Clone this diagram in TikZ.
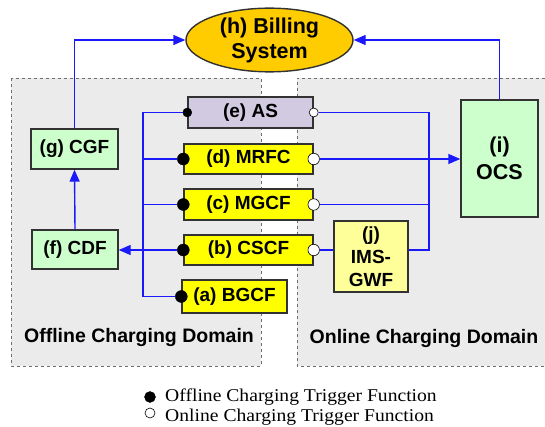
\documentclass[tikz,border=0pt]{standalone}
\usepackage{fontspec}
\usepackage{graphicx}
\setmainfont{Liberation Sans}
\newfontfamily\legendfont{Liberation Serif}
\usetikzlibrary{arrows.meta,shapes.geometric}
\definecolor{conn}{RGB}{25,25,250}
\definecolor{boxline}{RGB}{50,50,50}
\definecolor{domfill}{RGB}{235,235,235}
\definecolor{domline}{RGB}{110,110,110}
\definecolor{gold}{RGB}{255,204,0}
\definecolor{lav}{RGB}{210,202,224}
\definecolor{mint}{RGB}{204,255,204}
\definecolor{paleyel}{RGB}{255,255,153}
\definecolor{yel}{RGB}{255,255,0}
\begin{document}
\begin{tikzpicture}[x=1pt,y=-1pt,
  box/.style={draw=boxline, line width=1.4pt, inner sep=0pt, align=center,
    font=\fontsize{19}{23}\selectfont\bfseries},
  link/.style={draw=conn, line width=1.4pt},
  arr/.style={link, -{Triangle[length=12pt,width=10pt]}},
  dom/.style={fill=domfill, draw=domline, dashed, line width=0.8pt},
  domlabel/.style={font=\fontsize{19.5}{23}\selectfont\bfseries},
  fdot/.style={circle, fill=black, draw=black, inner sep=0pt, minimum size=#1},
  fdot/.default=12pt,
  odot/.style={circle, fill=white, draw=black, line width=0.6pt, inner sep=0pt, minimum size=#1},
  odot/.default=11.5pt]
\useasboundingbox (0,0) rectangle (545,427);
% domains
\path[fill=domfill] (11,78) rectangle (261,366);
\draw[dom] (11,78) rectangle (261,366);
\path[fill=domfill] (297,78) rectangle (545,366);
\draw[domline, dashed, line width=0.8pt] (545,78) -- (297,78) -- (297,366) -- (545,366);
\node[domlabel] (offl) at (139,337) {Offline Charging Domain};
\node[domlabel] (onl) at (424,338) {Online Charging Domain};
% nodes
\node[box, ellipse, fill=gold, minimum width=167pt, minimum height=60pt,
  font=\fontsize{21.5}{25}\selectfont\bfseries] (bill) at (269.5,40) {(h) Billing\\System};
\node[box, fill=mint, minimum width=87pt, minimum height=40pt] (CGF) at (74.5,149) {(g) CGF};
\node[box, fill=mint, minimum width=86pt, minimum height=39pt] (CDF) at (75,249.5) {(f) CDF};
\node[box, fill=lav, minimum width=125pt, minimum height=31pt] (AS) at (250.5,112.5) {(e) AS};
\node[box, fill=yel, minimum width=129pt, minimum height=30pt] (MR) at (248.5,159) {(d) MRFC};
\node[box, fill=yel, minimum width=129pt, minimum height=31pt] (MG) at (248.5,204.5) {(c) MGCF};
\node[box, fill=yel, minimum width=129pt, minimum height=30pt] (CS) at (248.5,250) {(b) CSCF};
\node[box, fill=yel, minimum width=105pt, minimum height=33pt] (BG) at (234.5,296.5) {(a) BGCF};
\node[box, fill=paleyel, minimum width=74pt, minimum height=71pt,
  font=\fontsize{19}{23}\selectfont\bfseries] (GWF) at (371,256.5) {(j)\\IMS-\\GWF};
\node[box, fill=mint, minimum width=77pt, minimum height=117pt,
  font=\fontsize{21.5}{27}\selectfont\bfseries] (OCS) at (499.5,158.5) {(i)\\OCS};
% trigger dots
\node[fdot=9pt] (ASf) at (AS.west) {};
\node[odot=9pt] (ASo) at (AS.east) {};
\node[fdot] (MRf) at (MR.west) {};
\node[odot] (MRo) at (MR.east) {};
\node[fdot] (MGf) at (MG.west) {};
\node[odot] (MGo) at (MG.east) {};
\node[fdot] (CSf) at (CS.west) {};
\node[odot] (CSo) at (CS.east) {};
\node[fdot] (BGf) at (BG.west) {};
% offline bus
\coordinate (lt) at (143,112.5);
\coordinate (lb) at (143,296.5);
\draw[link] (ASf.west) -- (lt) -- (lb) -- (BGf.west);
\draw[link] (MRf.west) -- (MRf.west -| lt);
\draw[link] (MGf.west) -- (MGf.west -| lt);
\draw[arr] (CSf.west) -- (CSf.west -| CDF.east);
\draw[arr] (CDF.north) -- (CGF.south);
\draw[arr] (CGF.north) |- (bill.west);
% online bus
\coordinate (rt) at (429,112.5);
\coordinate (rb) at (429,250);
\draw[link] (ASo.east) -- (rt) -- (rb) -- (rb -| GWF.east);
\draw[link] (MGo.east) -- (MGo.east -| rt);
\draw[arr] (MRo.east) -- (MRo.east -| OCS.west);
\draw[link] (CSo.east) -- (CSo.east -| GWF.west);
\draw[arr] (OCS.north) |- (bill.east);
% legend
\node[fdot=11pt] (lgf) at (150,397) {};
\node[odot=10pt] (lgo) at (150,413) {};
\node[anchor=base west, inner sep=0pt, font=\legendfont\fontsize{18}{20}\selectfont] (lgt1) at (165,401)
  {\scalebox{1.09}[1]{Offline Charging Trigger Function}};
\node[anchor=base west, inner sep=0pt, font=\legendfont\fontsize{18}{20}\selectfont] (lgt2) at (165,421.5)
  {\scalebox{1.09}[1]{Online Charging Trigger Function}};
\end{tikzpicture}
\end{document}
